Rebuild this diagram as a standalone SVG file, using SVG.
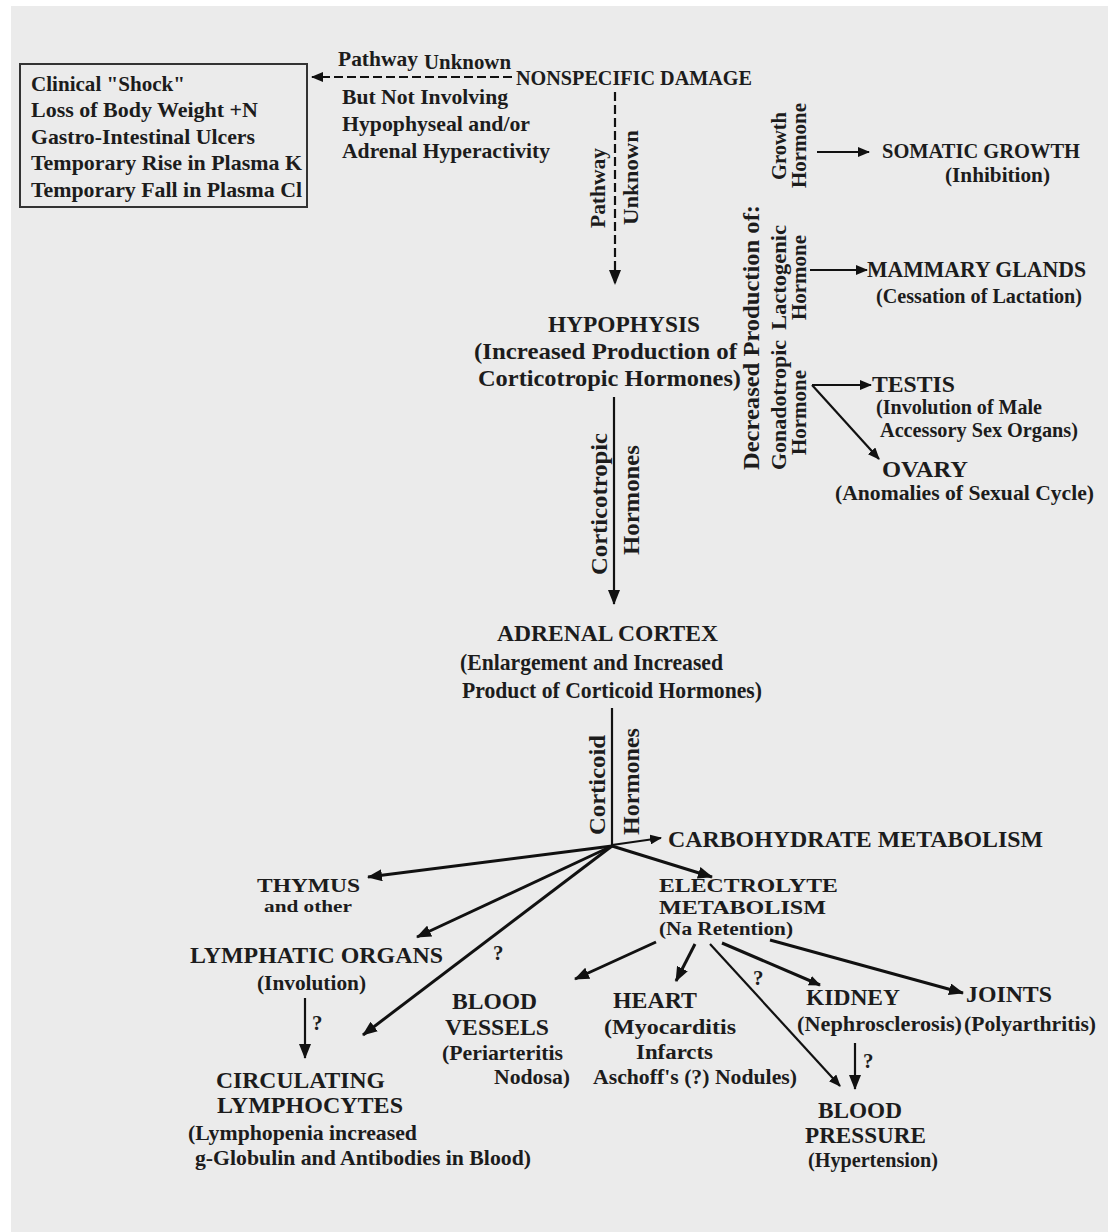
<svg xmlns="http://www.w3.org/2000/svg" width="1108" height="1232" viewBox="0 0 1108 1232">
<defs>
<marker id="ah" markerUnits="userSpaceOnUse" markerWidth="15" markerHeight="12" refX="14" refY="6" orient="auto">
<path d="M0,0 L15,6 L0,12 z" fill="#111"/>
</marker>
<marker id="ahs" markerUnits="userSpaceOnUse" markerWidth="12" markerHeight="10" refX="11" refY="5" orient="auto">
<path d="M0,0 L12,5 L0,10 z" fill="#111"/>
</marker>
</defs>
<style>
text{font-family:"Liberation Serif","Times New Roman",serif;font-weight:bold;fill:#1c1c1c;font-size:23px}
.b{font-size:22px}
.s{font-size:21px}
.t{font-size:19px}
.u{font-size:17px}
.ln{stroke:#111;stroke-width:2.2;fill:none}
.th{stroke:#111;stroke-width:3;fill:none}
.dash{stroke:#111;stroke-width:2.2;fill:none;stroke-dasharray:9 4}
</style>
<rect x="0" y="0" width="1108" height="1232" fill="#ffffff"/>
<rect x="11" y="6" width="1097" height="1226" fill="#ebebeb"/>

<g id="connectors">
<line class="dash" x1="512" y1="77" x2="312" y2="77" marker-end="url(#ahs)"/>
<line class="dash" x1="615" y1="92" x2="615" y2="284" marker-end="url(#ah)"/>
<line class="ln" x1="614" y1="397" x2="614" y2="604" marker-end="url(#ah)"/>
<line class="ln" x1="612" y1="708" x2="612" y2="846"/>
<line class="ln" x1="612" y1="845" x2="661" y2="838" marker-end="url(#ahs)"/>
<line class="th" x1="612" y1="846" x2="712" y2="877" marker-end="url(#ah)"/>
<line class="th" x1="612" y1="846" x2="368" y2="877" marker-end="url(#ah)"/>
<line class="th" x1="612" y1="846" x2="417" y2="937" marker-end="url(#ah)"/>
<line class="th" x1="612" y1="846" x2="363" y2="1035" marker-end="url(#ah)"/>
<line class="ln" x1="305" y1="998" x2="305" y2="1058" marker-end="url(#ah)"/>
<line class="th" x1="656" y1="942" x2="575" y2="979" marker-end="url(#ah)"/>
<line class="th" x1="695" y1="944" x2="676" y2="981" marker-end="url(#ah)"/>
<line class="ln" x1="710" y1="944" x2="840" y2="1086" marker-end="url(#ahs)"/>
<line class="th" x1="722" y1="943" x2="820" y2="985" marker-end="url(#ahs)"/>
<line class="th" x1="770" y1="940" x2="963" y2="993" marker-end="url(#ah)"/>
<line class="ln" x1="855" y1="1043" x2="855" y2="1089" marker-end="url(#ah)"/>
<line class="ln" x1="817" y1="152" x2="869" y2="152" marker-end="url(#ahs)"/>
<line class="ln" x1="810" y1="270" x2="867" y2="270" stroke="#1a1a5a" marker-end="url(#ahs)"/>
<line class="ln" x1="812" y1="385" x2="871" y2="385" stroke="#4a1a1a" marker-end="url(#ahs)"/>
<line class="ln" x1="812" y1="385" x2="879" y2="459" marker-end="url(#ahs)"/>
</g>

<g id="symptoms">
<rect x="20" y="64" width="287" height="143" fill="none" stroke="#333" stroke-width="2"/>
<text class="b" x="31" y="91" textLength="154" lengthAdjust="spacingAndGlyphs">Clinical "Shock"</text>
<text class="b" x="31" y="117" textLength="227" lengthAdjust="spacingAndGlyphs">Loss of Body Weight +N</text>
<text class="b" x="31" y="144" textLength="224" lengthAdjust="spacingAndGlyphs">Gastro-Intestinal Ulcers</text>
<text class="b" x="31" y="170" textLength="271" lengthAdjust="spacingAndGlyphs">Temporary Rise in Plasma K</text>
<text class="b" x="31" y="197" textLength="271" lengthAdjust="spacingAndGlyphs">Temporary Fall in Plasma Cl</text>
</g>

<g id="pathway-label">
<text x="338" y="66" class="s" textLength="80" lengthAdjust="spacingAndGlyphs">Pathway</text>
<text x="424" y="69" class="s" textLength="87" lengthAdjust="spacingAndGlyphs">Unknown</text>
<text x="342" y="104" class="s" textLength="166" lengthAdjust="spacingAndGlyphs">But Not Involving</text>
<text x="342" y="131" class="s" textLength="188" lengthAdjust="spacingAndGlyphs">Hypophyseal and/or</text>
<text x="342" y="158" class="s" textLength="208" lengthAdjust="spacingAndGlyphs">Adrenal Hyperactivity</text>
</g>

<g id="nonspecific-damage">
<text x="516" y="85" class="s" textLength="236" lengthAdjust="spacingAndGlyphs">NONSPECIFIC DAMAGE</text>
</g>

<g id="pathway-vertical-label">
<text class="s" transform="translate(605,228) rotate(-90)" textLength="80" lengthAdjust="spacingAndGlyphs">Pathway</text>
<text class="s" transform="translate(638,225) rotate(-90)" textLength="95" lengthAdjust="spacingAndGlyphs">Unknown</text>
</g>

<g id="hypophysis">
<text x="548" y="332" textLength="152" lengthAdjust="spacingAndGlyphs">HYPOPHYSIS</text>
<text x="474" y="359" textLength="263" lengthAdjust="spacingAndGlyphs">(Increased Production of</text>
<text x="478" y="386" textLength="263" lengthAdjust="spacingAndGlyphs">Corticotropic Hormones)</text>
</g>

<g id="corticotropic-label">
<text transform="translate(607,575) rotate(-90)" textLength="142" lengthAdjust="spacingAndGlyphs">Corticotropic</text>
<text transform="translate(639,555) rotate(-90)" textLength="110" lengthAdjust="spacingAndGlyphs">Hormones</text>
</g>

<g id="decreased-production">
<text transform="translate(759,470) rotate(-90)" textLength="265" lengthAdjust="spacingAndGlyphs">Decreased Production of:</text>
<text class="s" transform="translate(786,180) rotate(-90)" textLength="68" lengthAdjust="spacingAndGlyphs">Growth</text>
<text class="s" transform="translate(806,188) rotate(-90)" textLength="85" lengthAdjust="spacingAndGlyphs">Hormone</text>
<text class="s" transform="translate(786,330) rotate(-90)" textLength="105" lengthAdjust="spacingAndGlyphs">Lactogenic</text>
<text class="s" transform="translate(806,320) rotate(-90)" textLength="85" lengthAdjust="spacingAndGlyphs">Hormone</text>
<text class="s" transform="translate(786,470) rotate(-90)" textLength="130" lengthAdjust="spacingAndGlyphs">Gonadotropic</text>
<text class="s" transform="translate(806,455) rotate(-90)" textLength="85" lengthAdjust="spacingAndGlyphs">Hormone</text>
</g>

<g id="somatic-growth">
<text x="882" y="158" class="s" textLength="198" lengthAdjust="spacingAndGlyphs">SOMATIC GROWTH</text>
<text x="945" y="182" class="s" textLength="105" lengthAdjust="spacingAndGlyphs">(Inhibition)</text>
</g>
<g id="mammary-glands">
<text x="867" y="277" textLength="219" lengthAdjust="spacingAndGlyphs">MAMMARY GLANDS</text>
<text x="876" y="303" class="s" textLength="206" lengthAdjust="spacingAndGlyphs">(Cessation of Lactation)</text>
</g>
<g id="testis">
<text x="872" y="392" textLength="83" lengthAdjust="spacingAndGlyphs">TESTIS</text>
<text x="876" y="414" class="s" textLength="166" lengthAdjust="spacingAndGlyphs">(Involution of Male</text>
<text x="880" y="437" class="s" textLength="198" lengthAdjust="spacingAndGlyphs">Accessory Sex Organs)</text>
</g>
<g id="ovary">
<text x="882" y="477" textLength="86" lengthAdjust="spacingAndGlyphs">OVARY</text>
<text x="835" y="500" class="s" textLength="259" lengthAdjust="spacingAndGlyphs">(Anomalies of Sexual Cycle)</text>
</g>

<g id="adrenal-cortex">
<text x="497" y="641" textLength="221" lengthAdjust="spacingAndGlyphs">ADRENAL CORTEX</text>
<text x="460" y="670" textLength="263" lengthAdjust="spacingAndGlyphs">(Enlargement and Increased</text>
<text x="462" y="698" textLength="300" lengthAdjust="spacingAndGlyphs">Product of Corticoid Hormones)</text>
</g>

<g id="corticoid-label">
<text transform="translate(605,835) rotate(-90)" textLength="100" lengthAdjust="spacingAndGlyphs">Corticoid</text>
<text transform="translate(639,835) rotate(-90)" textLength="107" lengthAdjust="spacingAndGlyphs">Hormones</text>
</g>

<g id="carbohydrate">
<text x="668" y="847" textLength="375" lengthAdjust="spacingAndGlyphs">CARBOHYDRATE METABOLISM</text>
</g>
<g id="electrolyte">
<text x="659" y="892" class="t" textLength="179" lengthAdjust="spacingAndGlyphs">ELECTROLYTE</text>
<text x="659" y="914" class="t" textLength="167" lengthAdjust="spacingAndGlyphs">METABOLISM</text>
<text x="659" y="935" class="t" textLength="134" lengthAdjust="spacingAndGlyphs">(Na Retention)</text>
</g>
<g id="thymus">
<text x="257" y="892" class="t" textLength="103" lengthAdjust="spacingAndGlyphs">THYMUS</text>
<text x="264" y="912" class="u" textLength="88" lengthAdjust="spacingAndGlyphs">and other</text>
</g>
<g id="lymphatic-organs">
<text x="190" y="963" textLength="253" lengthAdjust="spacingAndGlyphs">LYMPHATIC ORGANS</text>
<text x="257" y="990" class="s" textLength="109" lengthAdjust="spacingAndGlyphs">(Involution)</text>
</g>
<g id="question-labels">
<text x="493" y="960" class="s">?</text>
<text x="312" y="1030" class="s">?</text>
<text x="753" y="985" class="s">?</text>
<text x="863" y="1068" class="s">?</text>
</g>
<g id="circulating-lymphocytes">
<text x="216" y="1088" textLength="169" lengthAdjust="spacingAndGlyphs">CIRCULATING</text>
<text x="217" y="1113" textLength="186" lengthAdjust="spacingAndGlyphs">LYMPHOCYTES</text>
<text x="188" y="1140" class="s" textLength="229" lengthAdjust="spacingAndGlyphs">(Lymphopenia increased</text>
<text x="195" y="1165" class="s" textLength="336" lengthAdjust="spacingAndGlyphs">g-Globulin and Antibodies in Blood)</text>
</g>
<g id="blood-vessels">
<text x="452" y="1009" textLength="85" lengthAdjust="spacingAndGlyphs">BLOOD</text>
<text x="445" y="1035" textLength="104" lengthAdjust="spacingAndGlyphs">VESSELS</text>
<text x="442" y="1060" class="s" textLength="121" lengthAdjust="spacingAndGlyphs">(Periarteritis</text>
<text x="494" y="1084" class="s" textLength="76" lengthAdjust="spacingAndGlyphs">Nodosa)</text>
</g>
<g id="heart">
<text x="613" y="1008" textLength="84" lengthAdjust="spacingAndGlyphs">HEART</text>
<text x="604" y="1034" class="s" textLength="132" lengthAdjust="spacingAndGlyphs">(Myocarditis</text>
<text x="636" y="1059" class="s" textLength="77" lengthAdjust="spacingAndGlyphs">Infarcts</text>
<text x="593" y="1084" class="s" textLength="204" lengthAdjust="spacingAndGlyphs">Aschoff's (?) Nodules)</text>
</g>
<g id="kidney">
<text x="806" y="1005" textLength="94" lengthAdjust="spacingAndGlyphs">KIDNEY</text>
<text x="797" y="1031" class="s" textLength="165" lengthAdjust="spacingAndGlyphs">(Nephrosclerosis)</text>
</g>
<g id="joints">
<text x="966" y="1002" textLength="86" lengthAdjust="spacingAndGlyphs">JOINTS</text>
<text x="964" y="1031" class="s" textLength="132" lengthAdjust="spacingAndGlyphs">(Polyarthritis)</text>
</g>
<g id="blood-pressure">
<text x="818" y="1118" textLength="84" lengthAdjust="spacingAndGlyphs">BLOOD</text>
<text x="805" y="1143" textLength="121" lengthAdjust="spacingAndGlyphs">PRESSURE</text>
<text x="808" y="1167" class="s" textLength="130" lengthAdjust="spacingAndGlyphs">(Hypertension)</text>
</g>
</svg>
